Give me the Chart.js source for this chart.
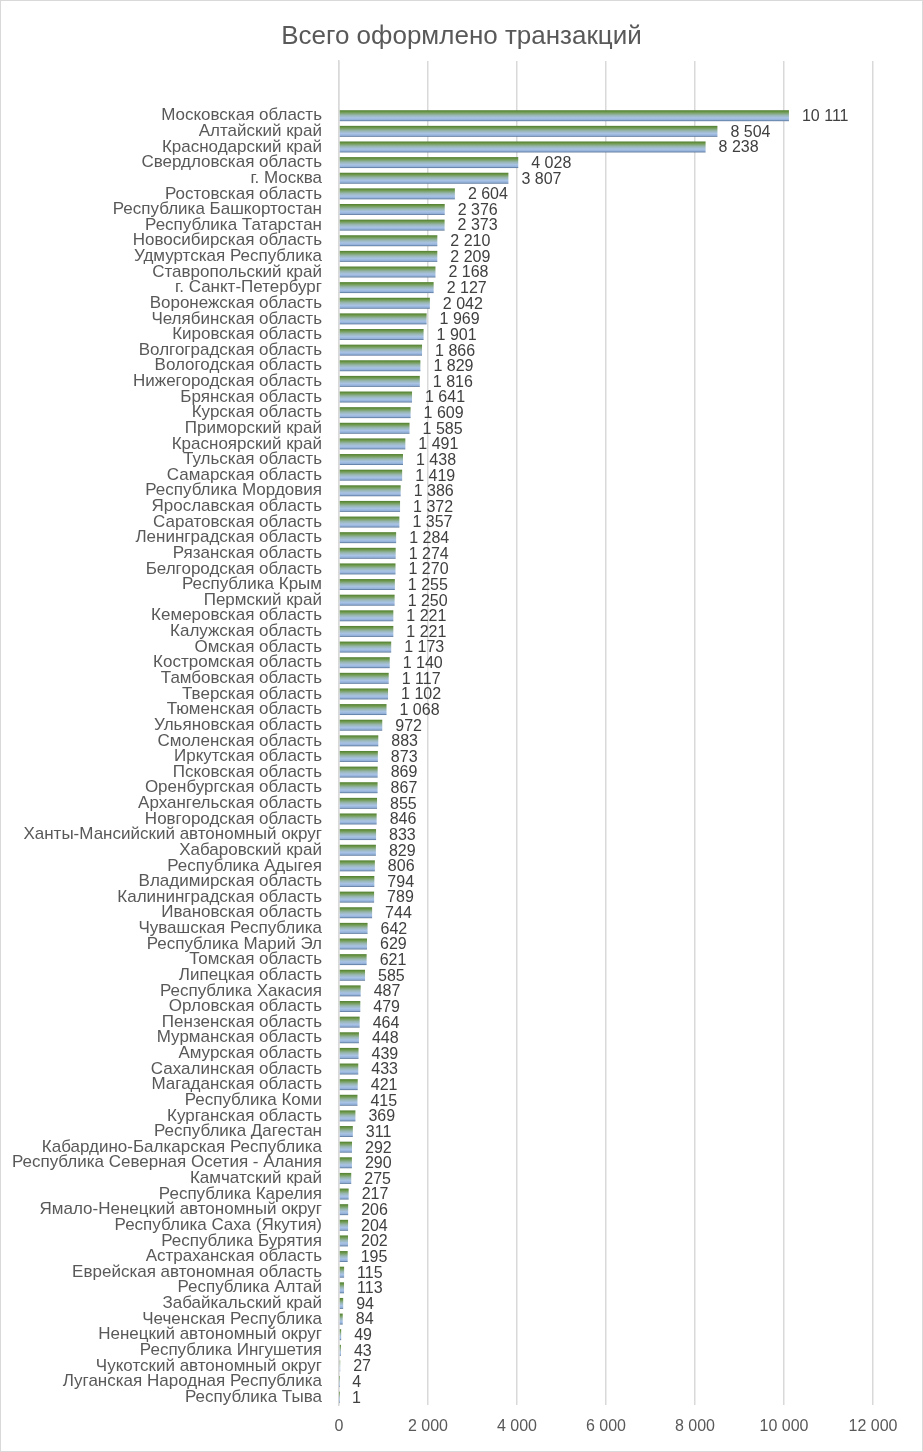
<!DOCTYPE html>
<html>
<head>
<meta charset="utf-8">
<script src="https://cdn.jsdelivr.net/npm/chart.js@4.4.0/dist/chart.umd.min.js"></script>
<style>
  html, body { margin: 0; padding: 0; background: #ffffff; }
  #wrap { width: 923px; height: 1452px; position: relative; }
</style>
</head>
<body>
<div id="wrap"><canvas id="regionsChart" width="923" height="1452"></canvas></div>
<script>
// Regions (top to bottom as in the chart) and their transaction counts
const regions = [
  'Московская область', 'Алтайский край', 'Краснодарский край', 'Свердловская область', 'г. Москва',
  'Ростовская область', 'Республика Башкортостан', 'Республика Татарстан', 'Новосибирская область',
  'Удмуртская Республика', 'Ставропольский край', 'г. Санкт-Петербург', 'Воронежская область',
  'Челябинская область', 'Кировская область', 'Волгоградская область', 'Вологодская область',
  'Нижегородская область', 'Брянская область', 'Курская область', 'Приморский край',
  'Красноярский край', 'Тульская область', 'Самарская область', 'Республика Мордовия',
  'Ярославская область', 'Саратовская область', 'Ленинградская область', 'Рязанская область',
  'Белгородская область', 'Республика Крым', 'Пермский край', 'Кемеровская область',
  'Калужская область', 'Омская область', 'Костромская область', 'Тамбовская область',
  'Тверская область', 'Тюменская область', 'Ульяновская область', 'Смоленская область',
  'Иркутская область', 'Псковская область', 'Оренбургская область', 'Архангельская область',
  'Новгородская область', 'Ханты-Мансийский автономный округ', 'Хабаровский край', 'Республика Адыгея',
  'Владимирская область', 'Калининградская область', 'Ивановская область', 'Чувашская Республика',
  'Республика Марий Эл', 'Томская область', 'Липецкая область', 'Республика Хакасия',
  'Орловская область', 'Пензенская область', 'Мурманская область', 'Амурская область',
  'Сахалинская область', 'Магаданская область', 'Республика Коми', 'Курганская область',
  'Республика Дагестан', 'Кабардино-Балкарская Республика', 'Республика Северная Осетия - Алания',
  'Камчатский край', 'Республика Карелия', 'Ямало-Ненецкий автономный округ', 'Республика Саха (Якутия)',
  'Республика Бурятия', 'Астраханская область', 'Еврейская автономная область', 'Республика Алтай',
  'Забайкальский край', 'Чеченская Республика', 'Ненецкий автономный округ', 'Республика Ингушетия',
  'Чукотский автономный округ', 'Луганская Народная Республика', 'Республика Тыва'
];

const transactions = [
  10111, 8504, 8238, 4028, 3807,
  2604, 2376, 2373, 2210,
  2209, 2168, 2127, 2042,
  1969, 1901, 1866, 1829,
  1816, 1641, 1609, 1585,
  1491, 1438, 1419, 1386,
  1372, 1357, 1284, 1274,
  1270, 1255, 1250, 1221,
  1221, 1173, 1140, 1117,
  1102, 1068, 972, 883,
  873, 869, 867, 855,
  846, 833, 829, 806,
  794, 789, 744, 642,
  629, 621, 585, 487,
  479, 464, 448, 439,
  433, 421, 415, 369,
  311, 292, 290,
  275, 217, 206, 204,
  202, 195, 115, 113,
  94, 84, 49, 43,
  27, 4, 1
];

// Excel chart left three empty rows above the first region
const blankRows = ['', '', ''];

const xTicks = [0, 2000, 4000, 6000, 8000, 10000, 12000];

const chartTitle = 'Всего оформлено транзакций';

const labelFont = 'Liberation Sans';

// "10111" -> "10 111"
function formatNumber(v) {
  return String(v).replace(/\B(?=(\d{3})+(?!\d))/g, ' ');
}

// Draws gradient bars (green top -> light blue) plus value labels
const barStylePlugin = {
  id: 'barStyle',
  afterDatasetsDraw(chart) {
    const ctx = chart.ctx;
    const meta = chart.getDatasetMeta(0);
    ctx.save();
    meta.data.forEach((bar, i) => {
      const value = chart.data.datasets[0].data[i];
      if (value === null || value === undefined) return;
      const top = bar.y - bar.height / 2;
      const bottom = bar.y + bar.height / 2;
      const grad = ctx.createLinearGradient(0, top, 0, bottom);
      grad.addColorStop(0, '#4f7d2f');
      grad.addColorStop(0.18, '#6f9a4f');
      grad.addColorStop(0.45, '#98b6b0');
      grad.addColorStop(0.7, '#a9c3e6');
      grad.addColorStop(0.88, '#93b0d8');
      grad.addColorStop(1, '#4d6a8f');
      ctx.fillStyle = grad;
      ctx.fillRect(bar.base, top, bar.x - bar.base, bottom - top);

      ctx.fillStyle = '#404040';
      ctx.font = '16px "' + labelFont + '"';
      ctx.textAlign = 'left';
      ctx.textBaseline = 'middle';
      ctx.fillText(formatNumber(value), bar.x + 13, bar.y + 1);
    });
    ctx.restore();
  }
};

// Title centred on the whole canvas + thin grey frame around the chart
const framePlugin = {
  id: 'frame',
  afterDraw(chart) {
    const ctx = chart.ctx;
    ctx.save();
    ctx.fillStyle = '#595959';
    ctx.font = '26px "' + labelFont + '"';
    ctx.textAlign = 'center';
    ctx.textBaseline = 'middle';
    ctx.fillText(chartTitle, chart.width / 2, 37);

    ctx.strokeStyle = '#d9d9d9';
    ctx.lineWidth = 1;
    ctx.strokeRect(0.5, 0.5, chart.width - 1, chart.height - 1);
    ctx.restore();
  }
};

const ctx = document.getElementById('regionsChart').getContext('2d');

new Chart(ctx, {
  type: 'bar',
  data: {
    labels: blankRows.concat(regions),
    datasets: [{
      label: chartTitle,
      data: blankRows.map(() => null).concat(transactions),
      backgroundColor: 'rgba(0,0,0,0)',
      barPercentage: 0.7,
      categoryPercentage: 1.0
    }]
  },
  options: {
    indexAxis: 'y',
    responsive: false,
    animation: false,
    layout: {
      padding: { top: 61, right: 50, bottom: 0, left: 0 }
    },
    scales: {
      x: {
        min: 0,
        max: 12000,
        afterBuildTicks: (scale) => {
          scale.ticks = xTicks.map(v => ({ value: v }));
        },
        afterFit: (scale) => {
          scale.height = 47;
        },
        grid: {
          color: '#d9d9d9',
          lineWidth: 1.5,
          drawTicks: false
        },
        border: { display: false },
        ticks: {
          color: '#595959',
          padding: 12,
          font: { family: labelFont, size: 16 },
          callback: (v) => formatNumber(v)
        }
      },
      y: {
        afterFit: (scale) => {
          scale.width = 339;
        },
        grid: { display: false, drawTicks: false },
        border: { display: true, color: '#d9d9d9', width: 1.5 },
        ticks: {
          autoSkip: false,
          color: '#595959',
          padding: 17,
          font: { family: labelFont, size: 17 }
        }
      }
    },
    plugins: {
      legend: { display: false },
      tooltip: { enabled: false },
      title: { display: false }
    }
  },
  plugins: [barStylePlugin, framePlugin]
});
</script>
</body>
</html>
